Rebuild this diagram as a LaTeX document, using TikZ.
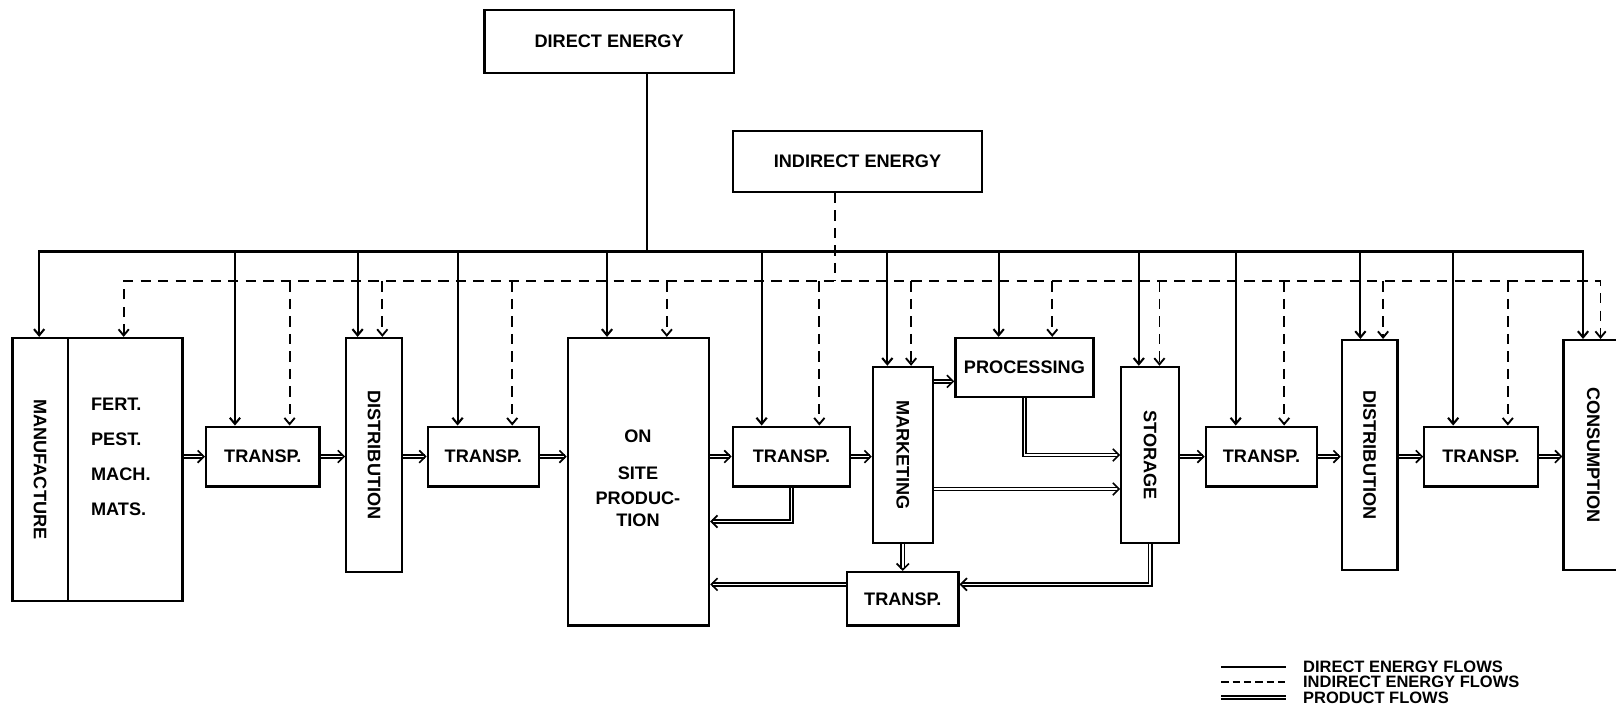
\documentclass[tikz,border=0pt]{standalone}
\usepackage{fontspec}
\setmainfont{Liberation Sans}
\usetikzlibrary{arrows.meta,calc}
\begin{document}
\begin{tikzpicture}[x=0.5pt,y=-0.5pt,
  bx/.style={draw,line width=1.1pt,inner sep=0pt,rectangle,font=\fontsize{8.8}{11}\selectfont\bfseries},
  lbl/.style={font=\fontsize{8.8}{11}\selectfont\bfseries,inner sep=0pt},
  vlbl/.style={lbl,rotate=-90},
  lgd/.style={font=\fontsize{8}{9}\selectfont\bfseries,inner sep=0pt,anchor=west},
  tip/.style={-{Straight Barb[length=3pt,width=5pt]}},
  tips/.style={{Straight Barb[length=3pt,width=5pt]}-{Straight Barb[length=3pt,width=5pt]}},
  dline/.style={line width=1pt},
  iline/.style={line width=0.9pt,dash pattern=on 5pt off 3.5pt},
  pflow/.style={line width=0.8pt,double distance=0.7pt,-{Straight Barb[length=3pt,width=6pt]}},
  pline/.style={line width=0.8pt,double distance=0.7pt},
]
\useasboundingbox (0,0) rectangle (1568,702);
\clip (0,0) rectangle (1568,702);

% top boxes
\node[bx,minimum width=121pt,minimum height=30.5pt] (direct) at (591,40.5) {DIRECT ENERGY};
\node[bx,minimum width=121pt,minimum height=29.5pt] (indirect) at (832,156.5) {INDIRECT ENERGY};

% main row
\node[bx,minimum width=27pt,minimum height=127.5pt] (manL) at (39,455.5) {};
\node[bx,minimum width=55.5pt,minimum height=127.5pt] (manR) at (121.5,455.5) {};
\node[vlbl] (manT) at (manL.center) {MANUFACTURE};
\node[lbl,anchor=west,align=left,font=\fontsize{8.8}{17}\selectfont\bfseries] (fert) at (88,443) {FERT.\\PEST.\\MACH.\\MATS.};

\node[bx,minimum width=55pt,minimum height=29pt] (t1) at (255,443) {TRANSP.};
\node[bx,minimum width=27pt,minimum height=113.5pt] (d1) at (363,441.5) {};
\node[vlbl] (d1T) at (d1.center) {DISTRIBUTION};
\node[bx,minimum width=54pt,minimum height=29pt] (t2) at (469,443) {TRANSP.};
\node[bx,minimum width=68.5pt,minimum height=139.5pt] (onsite) at (619.5,467.5) {};
\node[lbl,align=center] (onT) at (619,464) {ON\\[7pt]SITE\\[1pt]PRODUC-\\TION};
\node[bx,minimum width=57pt,minimum height=29pt] (t3) at (768,443) {TRANSP.};
\node[bx,minimum width=29pt,minimum height=85.5pt] (mkt) at (876,441.5) {};
\node[vlbl] (mktT) at (mkt.center) {MARKETING};
\node[bx,minimum width=67pt,minimum height=28.5pt] (proc) at (994,356.5) {PROCESSING};
\node[bx,minimum width=28pt,minimum height=85.5pt] (stor) at (1116,441.5) {};
\node[vlbl] (storT) at (stor.center) {STORAGE};
\node[bx,minimum width=54pt,minimum height=26pt] (t4) at (876,581) {TRANSP.};
\node[bx,minimum width=54pt,minimum height=29pt] (t5) at (1224,443) {TRANSP.};
\node[bx,minimum width=27pt,minimum height=111.5pt] (d2) at (1329,441.5) {};
\node[vlbl] (d2T) at (d2.center) {DISTRIBUTION};
\node[bx,minimum width=55pt,minimum height=29pt] (t6) at (1437,443) {TRANSP.};
\node[bx,minimum width=31.5pt,minimum height=111.5pt] (cons) at (1548.5,441.5) {};
\node[vlbl] (consT) at (1546,441.5) {CONSUMPTION};

% direct energy bus
\coordinate (dbL) at (38,244);
\coordinate (dbR) at (1536,244);
\draw[dline] (628,0 |- direct.south) -- (628,0 |- dbL);
\draw[dline,tips] (dbL |- manL.north) -- (dbL) -- (dbR) -- (dbR |- cons.north);
\foreach \x/\n in {228/t1,347/d1,444/t2,589/onsite,739/t3,861/mkt,969/proc,1105/stor,1199/t5,1320/d2,1410/t6}
  \draw[dline,tip] (\x,0 |- dbL) -- (\x,0 |- \n.north);

% indirect energy bus
\coordinate (ibL) at (120,273);
\coordinate (ibR) at (1553,273);
\draw[iline] (810,0 |- indirect.south) -- (810,0 |- ibL);
\draw[iline,tips] (ibL |- manR.north) -- (ibL) -- (ibR) -- (ibR |- cons.north);
\foreach \x/\n in {281/t1,371/d1,497/t2,647/onsite,795/t3,884/mkt,1021/proc,1125/stor,1246/t5,1342/d2,1463/t6}
  \draw[iline,tip] (\x,0 |- ibL) -- (\x,0 |- \n.north);

% product flows
\draw[pflow] (manR.east |- t1.west) -- (t1.west);
\draw[pflow] (t1.east) -- (t1.east -| d1.west);
\draw[pflow] (d1.east |- t2.west) -- (t2.west);
\draw[pflow] (t2.east) -- (t2.east -| onsite.west);
\draw[pflow] (onsite.east |- t3.west) -- (t3.west);
\draw[pflow] (t3.east) -- (t3.east -| mkt.west);
\coordinate (procw) at ($(proc.west)+(0,13.5)$);
\draw[pflow] (procw -| mkt.east) -- (procw);
\draw[pflow] (proc.south) |- (stor.west);
\coordinate (storw) at ($(stor.west)+(0,33)$);
\draw[pflow] (storw -| mkt.east) -- (storw);
\coordinate (onfb) at ($(onsite.east)+(0,38.5)$);
\draw[pflow] (t3.south) |- (onfb);
\draw[pflow] (mkt.south) -- (t4.north);
\coordinate (t4w) at ($(t4.west)+(0,-14)$);
\draw[pflow] (t4w) -- (t4w -| onsite.east);
\coordinate (t4e) at ($(t4.east)+(0,-14)$);
\draw[pflow] (stor.south) |- (t4e);
\draw[pflow] (stor.east |- t5.west) -- (t5.west);
\draw[pflow] (t5.east) -- (t5.east -| d2.west);
\draw[pflow] (d2.east |- t6.west) -- (t6.west);
\draw[pflow] (t6.east) -- (t6.east -| cons.west);

% legend
\coordinate (lg1a) at (1185,647); \coordinate (lg1b) at (1248,647);
\coordinate (lg2a) at (1185,662); \coordinate (lg2b) at (1248,662);
\coordinate (lg3a) at (1185,677); \coordinate (lg3b) at (1248,677);
\draw[line width=0.8pt] (lg1a) -- (lg1b);
\draw[iline,dash pattern=on 3.5pt off 2pt] (lg2a) -- (lg2b);
\draw[pline] (lg3a) -- (lg3b);
\node[lgd] (lgt1) at (1264,647) {DIRECT ENERGY FLOWS};
\node[lgd] (lgt2) at (1264,662) {INDIRECT ENERGY FLOWS};
\node[lgd] (lgt3) at (1264,677) {PRODUCT FLOWS};
\end{tikzpicture}
\end{document}
